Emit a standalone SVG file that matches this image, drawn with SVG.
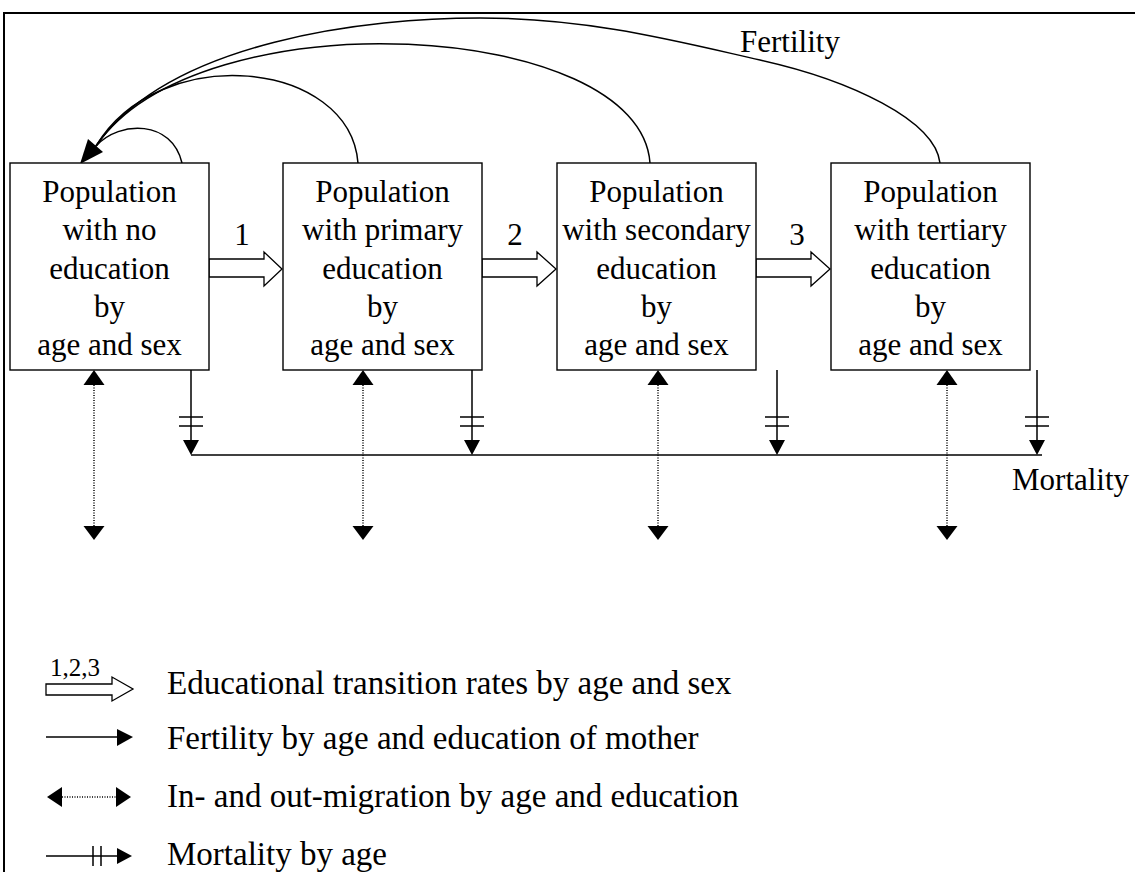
<svg xmlns="http://www.w3.org/2000/svg" width="1135" height="872" viewBox="0 0 1135 872">
<style>
text{font-family:"Liberation Serif","Times New Roman",serif;fill:#000;font-size:31px}
.c{text-anchor:middle}
.lg{font-size:33px}
.box{fill:#fff;stroke:#000;stroke-width:1.4}
.hollow{fill:#fff;stroke:#000;stroke-width:1.3}
.ln{fill:none;stroke:#000;stroke-width:1.5}
.dot{fill:none;stroke:#000;stroke-width:1.5;stroke-dasharray:1 1.5}
.fill{fill:#000}
</style>
<rect x="4" y="13" width="1200" height="900" fill="none" stroke="#000" stroke-width="2"/>
<g id="connectors">
  <g id="fertility">
    <path class="ln" d="M940,163 C935,120 850,80 760,60 C680,42 590,18 480,18 C370,18 170,40 96,146"/>
    <path class="ln" d="M650,163 C640,20 200,-5 96,146"/>
    <path class="ln" d="M358,163 C350,60 160,40 96,146"/>
    <path class="ln" d="M182,163 C172,120 120,120 96,146"/>
    <polygon class="fill" points="80,164 88,139 103,152"/>
  </g>
  <g id="transitions">
    <polygon class="hollow" points="209,259 264,259 264,252 282,269 264,286 264,277 209,277"/>
    <polygon class="hollow" points="482,259 537,259 537,252 556,269 537,286 537,277 482,277"/>
    <polygon class="hollow" points="756,259 811,259 811,252 830,269 811,286 811,277 756,277"/>
  </g>
  <g id="mortality">
    <path class="ln" d="M191,370 V440 M179,417 H203 M179,426 H203"/>
    <polygon class="fill" points="183,440 199,440 191,455"/>
    <path class="ln" d="M472,370 V440 M460,417 H484 M460,426 H484"/>
    <polygon class="fill" points="464,440 480,440 472,455"/>
    <path class="ln" d="M777,370 V440 M765,417 H789 M765,426 H789"/>
    <polygon class="fill" points="769,440 785,440 777,455"/>
    <path class="ln" d="M1037,370 V440 M1025,417 H1049 M1025,426 H1049"/>
    <polygon class="fill" points="1029,440 1045,440 1037,455"/>
    <path class="ln" d="M191,455 H1042"/>
  </g>
  <g id="migration">
    <path class="dot" d="M94,385 V526"/>
    <polygon class="fill" points="94,370 83.5,385 104.5,385"/>
    <polygon class="fill" points="83.5,526 104.5,526 94,540"/>
    <path class="dot" d="M363,385 V526"/>
    <polygon class="fill" points="363,370 352.5,385 373.5,385"/>
    <polygon class="fill" points="352.5,526 373.5,526 363,540"/>
    <path class="dot" d="M658,385 V526"/>
    <polygon class="fill" points="658,370 647.5,385 668.5,385"/>
    <polygon class="fill" points="647.5,526 668.5,526 658,540"/>
    <path class="dot" d="M947,385 V526"/>
    <polygon class="fill" points="947,370 936.5,385 957.5,385"/>
    <polygon class="fill" points="936.5,526 957.5,526 947,540"/>
  </g>
</g>
<text class="c" x="790" y="52">Fertility</text>
<text x="1012" y="490">Mortality</text>
<text class="c" x="242" y="245">1</text>
<text class="c" x="515" y="245">2</text>
<text class="c" x="797" y="245">3</text>
<g id="box1">
  <rect class="box" x="10" y="163" width="199" height="207"/>
  <text class="c" x="109.5" y="202">Population</text>
  <text class="c" x="109.5" y="240">with no</text>
  <text class="c" x="109.5" y="278.5">education</text>
  <text class="c" x="109.5" y="317">by</text>
  <text class="c" x="109.5" y="355">age and sex</text>
</g>
<g id="box2">
  <rect class="box" x="283" y="163" width="199" height="207"/>
  <text class="c" x="382.5" y="202">Population</text>
  <text class="c" x="382.5" y="240">with primary</text>
  <text class="c" x="382.5" y="278.5">education</text>
  <text class="c" x="382.5" y="317">by</text>
  <text class="c" x="382.5" y="355">age and sex</text>
</g>
<g id="box3">
  <rect class="box" x="557" y="163" width="199" height="207"/>
  <text class="c" x="656.5" y="202">Population</text>
  <text class="c" x="656.5" y="240">with secondary</text>
  <text class="c" x="656.5" y="278.5">education</text>
  <text class="c" x="656.5" y="317">by</text>
  <text class="c" x="656.5" y="355">age and sex</text>
</g>
<g id="box4">
  <rect class="box" x="831" y="163" width="199" height="207"/>
  <text class="c" x="930.5" y="202">Population</text>
  <text class="c" x="930.5" y="240">with tertiary</text>
  <text class="c" x="930.5" y="278.5">education</text>
  <text class="c" x="930.5" y="317">by</text>
  <text class="c" x="930.5" y="355">age and sex</text>
</g>
<g id="legend">
  <text x="50" y="676" style="font-size:25px">1,2,3</text>
  <polygon class="hollow" points="46,684 112,684 112,677 133,689 112,701 112,695 46,695"/>
  <text class="lg" x="167" y="694">Educational transition rates by age and sex</text>
  <path class="ln" d="M46,737 H118"/>
  <polygon class="fill" points="117,729 133,737 117,746"/>
  <text class="lg" x="167" y="749">Fertility by age and education of mother</text>
  <path class="dot" d="M62,797 H116"/>
  <polygon class="fill" points="47,797 62,787 62,807"/>
  <polygon class="fill" points="116,787 131,797 116,807"/>
  <text class="lg" x="167" y="807">In- and out-migration by age and education</text>
  <path class="ln" d="M46,856 H118 M93,846 V866 M101,846 V866"/>
  <polygon class="fill" points="117,848 132,856 117,864"/>
  <text class="lg" x="167" y="865">Mortality by age</text>
</g>
</svg>
